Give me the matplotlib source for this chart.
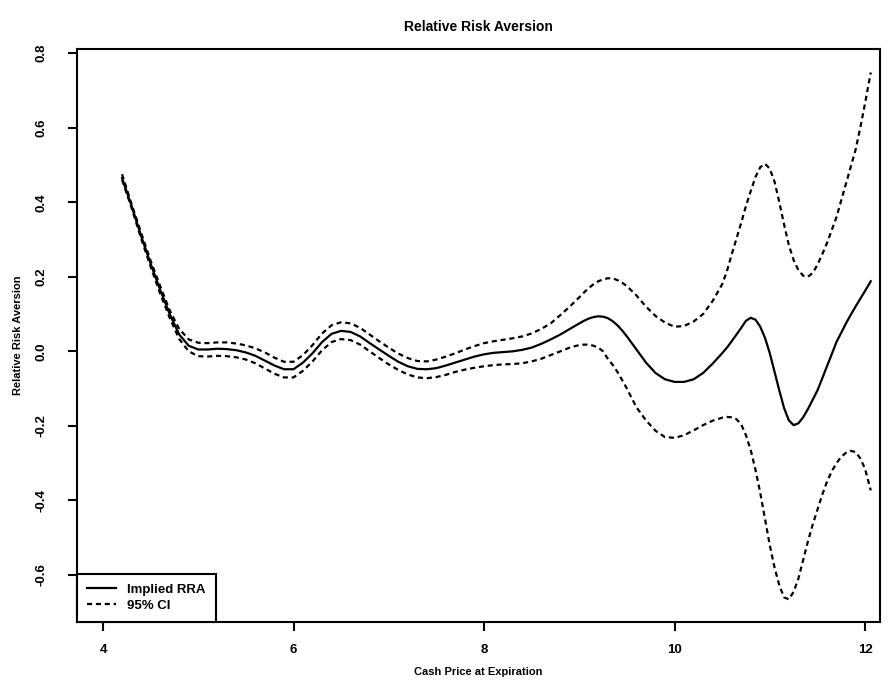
import matplotlib
matplotlib.use("Agg")
import matplotlib.pyplot as plt

plt.rcParams['font.family'] = ['Liberation Sans', 'DejaVu Sans']
plt.rcParams['font.weight'] = 'bold'

# Cash price grid
price = [4.2, 4.3, 4.4, 4.5, 4.6, 4.7, 4.8, 4.9, 5.0, 5.1,
         5.2, 5.3, 5.4, 5.5, 5.6, 5.7, 5.8, 5.9, 6.0, 6.1,
         6.2, 6.3, 6.4, 6.5, 6.6, 6.7, 6.8, 6.9, 7.0, 7.1,
         7.2, 7.3, 7.4, 7.5, 7.6, 7.7, 7.8, 7.9, 8.0, 8.1,
         8.2, 8.3, 8.4, 8.5, 8.6, 8.7, 8.8, 8.9, 9.0,
         9.05, 9.1, 9.15, 9.2, 9.25, 9.3, 9.35, 9.4, 9.45, 9.5,
         9.6, 9.7, 9.8, 9.9, 10.0, 10.1, 10.2, 10.3, 10.4, 10.5,
         10.55, 10.6, 10.65, 10.7, 10.75, 10.8, 10.85, 10.9, 10.95, 11.0,
         11.05, 11.1, 11.15, 11.2, 11.25, 11.3, 11.35, 11.4, 11.45, 11.5,
         11.55, 11.6, 11.65, 11.7, 11.75, 11.8, 11.85, 11.9, 11.95, 12.0,
         12.06]

rra = [0.465, 0.39, 0.31, 0.235, 0.165, 0.10, 0.045, 0.015, 0.005, 0.005,
       0.007, 0.006, 0.003, -0.003, -0.012, -0.025, -0.038, -0.048, -0.048, -0.03,
       -0.005, 0.025, 0.047, 0.055, 0.052, 0.04, 0.022, 0.005, -0.012, -0.028,
       -0.04, -0.047, -0.048, -0.045, -0.038, -0.03, -0.022, -0.014, -0.008, -0.004,
       -0.002, 0.0, 0.004, 0.01, 0.02, 0.032, 0.045, 0.06, 0.075,
       0.082, 0.088, 0.092, 0.094, 0.093, 0.089, 0.081, 0.07, 0.056, 0.04,
       0.005, -0.03, -0.058, -0.075, -0.082, -0.082, -0.075, -0.058, -0.033, -0.005,
       0.01, 0.027, 0.045, 0.063, 0.082, 0.09, 0.085, 0.066, 0.036, -0.005,
       -0.055, -0.105, -0.152, -0.185, -0.198, -0.193, -0.177, -0.155, -0.13, -0.105,
       -0.073, -0.04, -0.008, 0.025, 0.05, 0.075, 0.098, 0.12, 0.141, 0.162,
       0.188]

ci_upper = [0.475, 0.395, 0.318, 0.243, 0.175, 0.11, 0.06, 0.032, 0.023, 0.022,
            0.024, 0.024, 0.021, 0.016, 0.008, -0.003, -0.017, -0.028, -0.028, -0.01,
            0.017, 0.048, 0.07, 0.078, 0.075, 0.063, 0.045, 0.027, 0.01, -0.006,
            -0.018, -0.026, -0.027, -0.022, -0.014, -0.005, 0.005, 0.014, 0.022, 0.027,
            0.031, 0.035, 0.04, 0.048, 0.06, 0.075, 0.097, 0.12, 0.145,
            0.158, 0.17, 0.18, 0.188, 0.193, 0.196, 0.196, 0.191, 0.184, 0.175,
            0.15, 0.12, 0.095, 0.077, 0.066, 0.068, 0.08, 0.1, 0.135, 0.18,
            0.215, 0.26, 0.302, 0.345, 0.39, 0.43, 0.468, 0.494, 0.503, 0.49,
            0.455, 0.40, 0.34, 0.285, 0.245, 0.218, 0.203, 0.20, 0.21, 0.232,
            0.26, 0.29, 0.325, 0.36, 0.405, 0.45, 0.495, 0.54, 0.60, 0.665,
            0.748]

ci_lower = [0.46, 0.385, 0.303, 0.227, 0.155, 0.09, 0.033, 0.0, -0.013, -0.014,
            -0.012, -0.013, -0.016, -0.022, -0.032, -0.046, -0.06, -0.07, -0.07, -0.052,
            -0.027, 0.003, 0.025, 0.033, 0.03, 0.018, 0.0, -0.018, -0.035, -0.05,
            -0.062, -0.07, -0.072, -0.069, -0.063, -0.055, -0.049, -0.044, -0.04, -0.037,
            -0.035, -0.034, -0.032, -0.027, -0.02, -0.01, 0.0, 0.01, 0.017,
            0.018, 0.018, 0.015, 0.01, 0.0, -0.02, -0.036, -0.055, -0.077, -0.10,
            -0.15, -0.185, -0.213, -0.23, -0.232, -0.225, -0.212, -0.198, -0.186, -0.178,
            -0.176, -0.177, -0.182, -0.196, -0.225, -0.265, -0.318, -0.38, -0.45, -0.52,
            -0.58, -0.628, -0.66, -0.665, -0.645, -0.61, -0.56, -0.51, -0.465, -0.425,
            -0.385, -0.35, -0.322, -0.30, -0.283, -0.272, -0.267, -0.27, -0.287, -0.315,
            -0.373]

xticks = [4, 6, 8, 10, 12]
yticks = [-0.6, -0.4, -0.2, 0.0, 0.2, 0.4, 0.6, 0.8]
yticklabels = ['-0.6', '-0.4', '-0.2', '0.0', '0.2', '0.4', '0.6', '0.8']

W, H = 889, 694
fig = plt.figure(figsize=(W / 100, H / 100), dpi=100)
L, R, T, B = 77, 880, 49, 622
ax = fig.add_axes([L / W, 1 - B / H, (R - L) / W, (B - T) / H])

dash = (0, (2.3, 1.7))
ax.plot(price, rra, color='black', lw=1.6, label='Implied RRA')
ax.plot(price, ci_upper, color='black', lw=1.6, linestyle=dash, label='95% CI')
ax.plot(price, ci_lower, color='black', lw=1.6, linestyle=dash)

ax.set_xlim(3.727, 12.157)
ax.set_ylim(-0.726, 0.811)
ax.set_xticks(xticks)
ax.set_xticklabels([str(t) for t in xticks])
ax.set_yticks(yticks)
ax.set_yticklabels(yticklabels, rotation=90, va='center')

for s in ax.spines.values():
    s.set_linewidth(1.5)
ax.tick_params(axis='both', direction='out', length=6.5, width=1.5, labelsize=9.5)
ax.tick_params(axis='x', pad=9)
ax.tick_params(axis='y', pad=15)

ax.set_xlabel('Cash Price at Expiration', fontsize=8, fontweight='bold')
ax.set_ylabel('Relative Risk Aversion', fontsize=8, fontweight='bold')
ax.xaxis.set_label_coords(0.5, -(667 - B) / (B - T))
ax.yaxis.set_label_coords(-(L - 23) / (R - L), 0.5)

fig.text((L + R) / 2 / W, 1 - 27 / H, 'Relative Risk Aversion', ha='center', va='center',
         fontsize=10, fontweight='bold')

leg = ax.legend(loc='lower left', borderaxespad=0, fancybox=False, framealpha=1,
                edgecolor='black', handlelength=2.2, handletextpad=0.85,
                labelspacing=0.3, borderpad=0.75, prop={'weight': 'bold', 'size': 9.5})
leg.get_frame().set_linewidth(1.5)

fig.savefig('out.png', dpi=100)
